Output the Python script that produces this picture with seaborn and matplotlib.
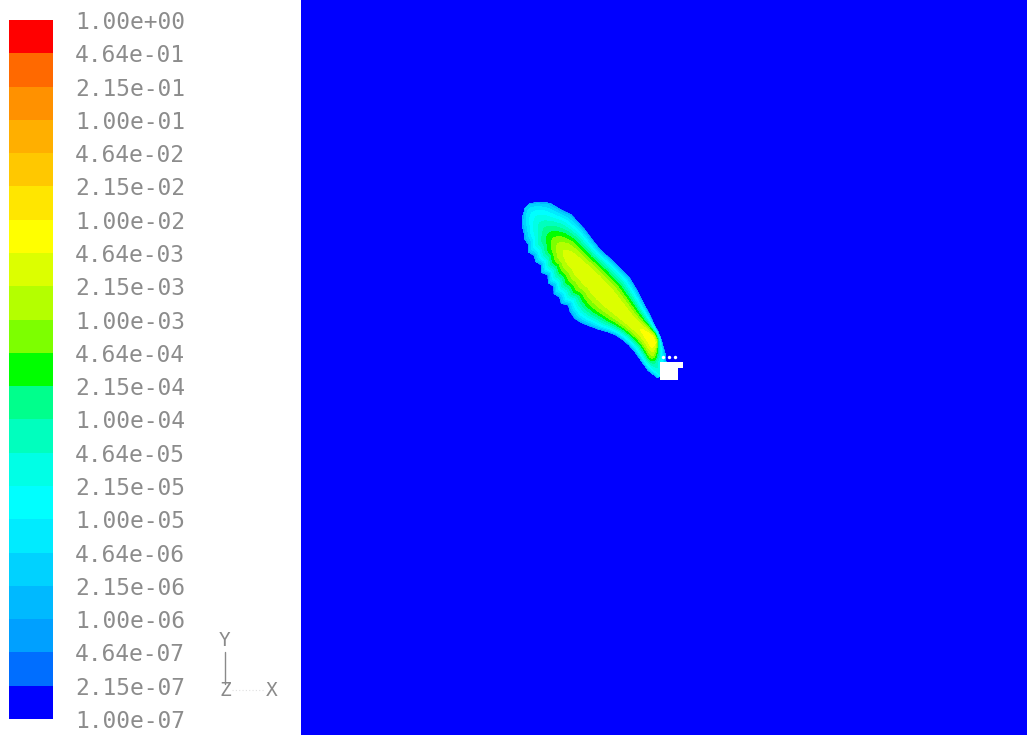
import numpy as np
import matplotlib
matplotlib.use("Agg")
import matplotlib.pyplot as plt
from matplotlib.lines import Line2D
from matplotlib.patches import Polygon
import seaborn as sns

# ---- contour levels (log10 of mass fraction), 1/3 decade apart ----
level_exponents = np.linspace(-7.0, 0.0, 22)
level_labels = [
    "1.00e-07", "2.15e-07", "4.64e-07", "1.00e-06", "2.15e-06", "4.64e-06",
    "1.00e-05", "2.15e-05", "4.64e-05", "1.00e-04", "2.15e-04", "4.64e-04",
    "1.00e-03", "2.15e-03", "4.64e-03", "1.00e-02", "2.15e-02", "4.64e-02",
    "1.00e-01", "2.15e-01", "4.64e-01", "1.00e+00",
]

# band colours, lowest band first
band_colors = [
    "#0000ff", "#006eff", "#00a0ff", "#00b9ff", "#00d2ff", "#00ebff",
    "#00ffff", "#00ffe6", "#00ffbe", "#00ff8c", "#00ff00", "#7dff00",
    "#b4ff00", "#dcff00", "#ffff00", "#ffe600", "#ffc800", "#ffaf00",
    "#ff9100", "#ff6900", "#ff0000",
]

# ---- domain (m) ----
domain_x = (0.0, 726.0)
domain_y = (0.0, 735.0)

# ---- plume description along its centreline ----
source_xy = (354.0, 387.0)          # release point
plume_heading_deg = 132.2            # direction of travel, from +x axis

station_s = np.array([-24, -12, -4, 4, 10, 18, 28, 40, 55, 70, 90, 110,
                      125, 135, 145, 155, 165, 178, 186, 191], float)
peak_log10 = np.array([-4.6, -4.2, -3.0, -2.1, -2.05, -2.25, -2.4, -2.4,
                       -2.38, -2.35, -2.35, -2.4, -2.5, -2.7, -3.1, -3.6,
                       -4.1, -4.7, -5.2, -5.6], float)
ridge_offset = np.array([-13, -11, -6, 2, 4, 3, 1, 0, 0, 0, 0, -1, -2, -2,
                         -2, -2, -1, 0, 0, 0], float)
edge_right = np.array([-6, 3, 7, 11, 13, 15, 18, 21, 25, 28, 27, 25, 26, 27,
                       27, 27, 23, 19, 12, 4], float)

# lower-left (leeward) edge of the cloud, ragged
left_s = np.array([-24, -12, -4, 4, 12, 20, 28, 36, 44, 52, 60, 68, 76, 84,
                   90, 96, 102, 108, 114, 120, 126, 132, 138, 144, 150, 156,
                   162, 168, 174, 180, 186, 189, 191], float)
edge_left = np.array([18, 20, 19, 18, 17, 17, 18, 20, 24, 29, 33, 37, 39,
                      38, 35, 39, 36, 38, 33, 35, 30, 33, 28, 30, 27, 29, 24,
                      23, 19, 16, 10, 5, 2], float)

edge_level = -5.9
profile_power = 1.8

# ---- obstacle and vent markers ----
building_x = [359, 382, 382, 377, 377, 359]
building_y = [373, 373, 367, 367, 355, 355]
vent_x = [362, 368, 374]
vent_y = [378, 378, 378]

# ---- concentration field ----
gx = np.arange(domain_x[0], domain_x[1] + 0.5, 1.0)
gy = np.arange(domain_y[0], domain_y[1] + 0.5, 1.0)
X, Y = np.meshgrid(gx, gy)
th = np.deg2rad(plume_heading_deg)
ux, uy = np.cos(th), np.sin(th)
px, py = uy, -ux
dX, dY = X - source_xy[0], Y - source_xy[1]
s = dX * ux + dY * uy
n = dX * px + dY * py

peak = np.interp(s, station_s, peak_log10)
off = np.interp(s, station_s, ridge_offset)
wr = np.interp(s, station_s, edge_right) - off
wl = np.interp(s, left_s, edge_left) + off
nn = n - off
w = np.where(nn >= 0, wr, wl)
r = np.abs(nn) / np.maximum(w, 1e-3)
inner = peak - (peak - edge_level) * r ** profile_power
outer = edge_level - 60.0 * (r - 1.0)
logc = np.where(r <= 1.0, inner, outer)
inside = (s >= station_s[0]) & (s <= station_s[-1])
logc = np.where(inside, logc, -9.0)
logc = np.clip(logc, -7.0 + 1e-6, -1e-6)

# ---- figure ----
sns.set_theme(style="white")
plt.rcParams["font.family"] = ["DejaVu Sans Mono", "DejaVu Sans"]
W, H = 1027, 735
fig = plt.figure(figsize=(W / 100, H / 100), dpi=100)
fig.patch.set_facecolor("white")

ax = fig.add_axes([301 / W, 0, 726 / W, 1])
palette = sns.color_palette(band_colors)
cs = ax.contourf(X, Y, logc, levels=level_exponents, colors=palette,
                 antialiased=False)
ax.add_patch(Polygon(np.column_stack([building_x, building_y]), closed=True,
                     facecolor="white", edgecolor="none", zorder=5))
ax.scatter(vent_x, vent_y, s=6, color="white", zorder=6, linewidths=0)
ax.set_xlim(*domain_x)
ax.set_ylim(*domain_y)
ax.set_axis_off()

# ---- colour bar ----
cax = fig.add_axes([9 / W, (H - 719) / H, 44 / W, 699 / H])
cb = fig.colorbar(cs, cax=cax)
cb.outline.set_visible(False)
cb.set_ticks(level_exponents)
cb.set_ticklabels(level_labels)
cax.tick_params(length=0, pad=16, labelsize=16.5, labelcolor="#8c8c8c")
for t in cax.get_yticklabels():
    t.set_family(["DejaVu Sans Mono"])

# ---- axis triad ----
def fp(x, y):
    return x / W, 1 - y / H

tri_color = "#8a8a8a"
fig.add_artist(Line2D(*zip(fp(225, 652), fp(225, 684)), color=tri_color,
                      lw=1.0, transform=fig.transFigure))
fig.add_artist(Line2D(*zip(fp(232, 690), fp(264, 690)), color="#e0e0e0",
                      lw=0.8, ls=(0, (1, 2)), transform=fig.transFigure))
for label, (x, y) in {"Y": (225, 641), "Z": (225, 691), "X": (272, 691)}.items():
    fig.text(*fp(x, y), label, ha="center", va="center", fontsize=14,
             color=tri_color, family=["DejaVu Sans Mono"])

fig.savefig("out.png", dpi=100, facecolor="white")
